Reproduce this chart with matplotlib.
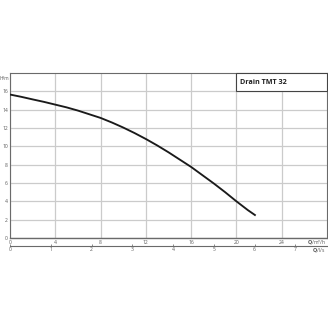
import matplotlib
matplotlib.use("Agg")
import matplotlib.pyplot as plt
from matplotlib.patches import Rectangle

plt.rcParams["font.family"] = ["Open Sans", "DejaVu Sans"]

# Data
flow_m3h = [0, 1, 2, 3, 4, 5, 6, 7, 8, 9, 10, 11, 12, 13, 14, 15, 16, 17, 18, 19, 20, 21, 21.7]
head_m = [15.65, 15.4, 15.12, 14.85, 14.55, 14.25, 13.9, 13.5, 13.1, 12.6, 12.05, 11.45,
          10.8, 10.1, 9.35, 8.55, 7.75, 6.85, 5.95, 5.0, 4.0, 3.05, 2.45]
x_ticks = [0, 4, 8, 12, 16, 20, 24]
y_ticks = [0, 2, 4, 6, 8, 10, 12, 14, 16]
ls_ticks = [0, 1, 2, 3, 4, 5, 6, 7]
title = "Drain TMT 32"

W = 328
fig = plt.figure(figsize=(W / 100, W / 100), dpi=100)
fig.patch.set_facecolor("white")
ax = fig.add_axes([10 / W, 1 - 238 / W, 317 / W, 165 / W])
ax.set_xlim(0, 28)
ax.set_ylim(0, 18)

grid_c = "#cbcbcb"
frame_c = "#6a6a6a"
txt_c = "#5a5a5a"

ax.set_xticks(x_ticks)
ax.set_yticks(y_ticks)
ax.grid(True, color=grid_c, linewidth=0.9)
ax.set_axisbelow(True)
ax.tick_params(axis="both", length=0, labelsize=3.6, colors=txt_c, pad=1.5)
ax.tick_params(axis="x", pad=1.2)
for s in ax.spines.values():
    s.set_color(frame_c)
    s.set_linewidth(0.8)
ax.spines["bottom"].set_linewidth(1.0)

ax.plot(flow_m3h, head_m, color="#1a1a1a", linewidth=1.35, solid_capstyle="butt",
        solid_joinstyle="round", zorder=3)

# title box
ax.add_patch(Rectangle((20, 16), 8, 2, facecolor="white", edgecolor="#444444",
                       linewidth=0.8, zorder=4, clip_on=False))
ax.text(20.3, 17.0, title, fontsize=5.2, fontweight="bold", color="#222222",
        va="center", ha="left", zorder=5)

ax.text(-0.004, 0.965, "H/m", transform=ax.transAxes, fontsize=3.4, color=txt_c,
        ha="right", va="center")

# secondary axis in l/s
sec = ax.secondary_xaxis(-8 / 165, functions=(lambda q: q / 3.6, lambda q: q * 3.6))
sec.set_xticks(ls_ticks)
sec.tick_params(axis="x", direction="in", length=1.5, width=0.5, colors=txt_c,
                labelsize=3.6, pad=0.8)
sec.spines["bottom"].set_color(frame_c)
sec.spines["bottom"].set_linewidth(0.8)

ax.text(0.995, -0.025, r"$\mathbf{Q}$/m³/h", transform=ax.transAxes, fontsize=3.6,
        color=txt_c, ha="right", va="center")
ax.text(0.995, -0.075, r"$\mathbf{Q}$/l/s", transform=ax.transAxes, fontsize=3.6,
        color=txt_c, ha="right", va="center")

fig.savefig("out.png", dpi=100, facecolor="white")
